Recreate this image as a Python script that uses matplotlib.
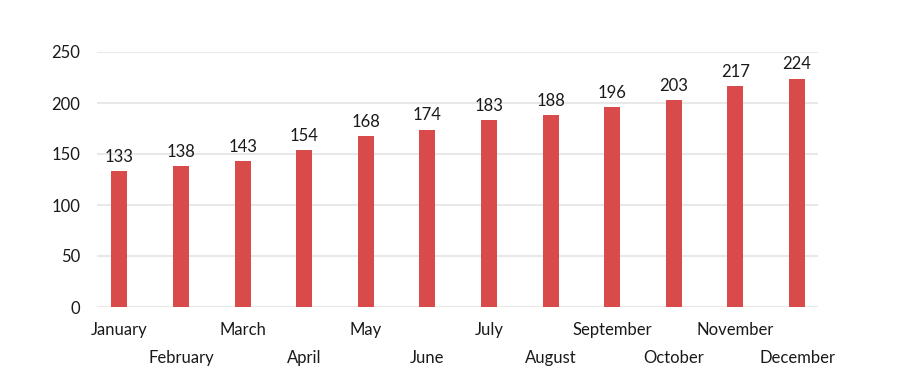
import matplotlib.pyplot as plt

# Monthly values shown above each bar
months = ['January', 'February', 'March', 'April', 'May', 'June',
          'July', 'August', 'September', 'October', 'November', 'December']
values = [133, 138, 143, 154, 168, 174, 183, 188, 196, 203, 217, 224]
y_ticks = [0, 50, 100, 150, 200, 250]

plt.rcParams['font.family'] = ['Lato', 'DejaVu Sans']
FS = 12

fig = plt.figure(figsize=(9.12, 3.89), dpi=100)
ax = fig.add_axes([97 / 912, 1 - 307 / 389, (818 - 97) / 912, (307 - 52) / 389])

x = list(range(len(months)))
ax.bar(x, values, width=0.26, color='#d94a4a', zorder=3)

for xi, v in zip(x, values):
    ax.text(xi, v + 6, str(v), ha='center', va='bottom', fontsize=FS, color='#1a1a1a')

ax.set_xlim(-0.365, 11.34)
ax.set_ylim(0, 250)
ax.set_yticks(y_ticks)
ax.yaxis.grid(True, color='#e8e8e8', linewidth=1.5, zorder=0)
ax.set_axisbelow(True)

ax.set_xticks(x)
ax.set_xticklabels([])
for xi, m in zip(x, months):
    off = 23 if xi % 2 == 0 else 51
    ax.annotate(m, (xi, 0), xytext=(0, -off), textcoords='offset pixels',
                ha='center', va='center', fontsize=FS, color='#1a1a1a')

ax.tick_params(axis='both', length=0, labelsize=FS, labelcolor='#1a1a1a')
ax.tick_params(axis='y', pad=12)
for s in ax.spines.values():
    s.set_visible(False)

fig.savefig('out.png', dpi=100)
